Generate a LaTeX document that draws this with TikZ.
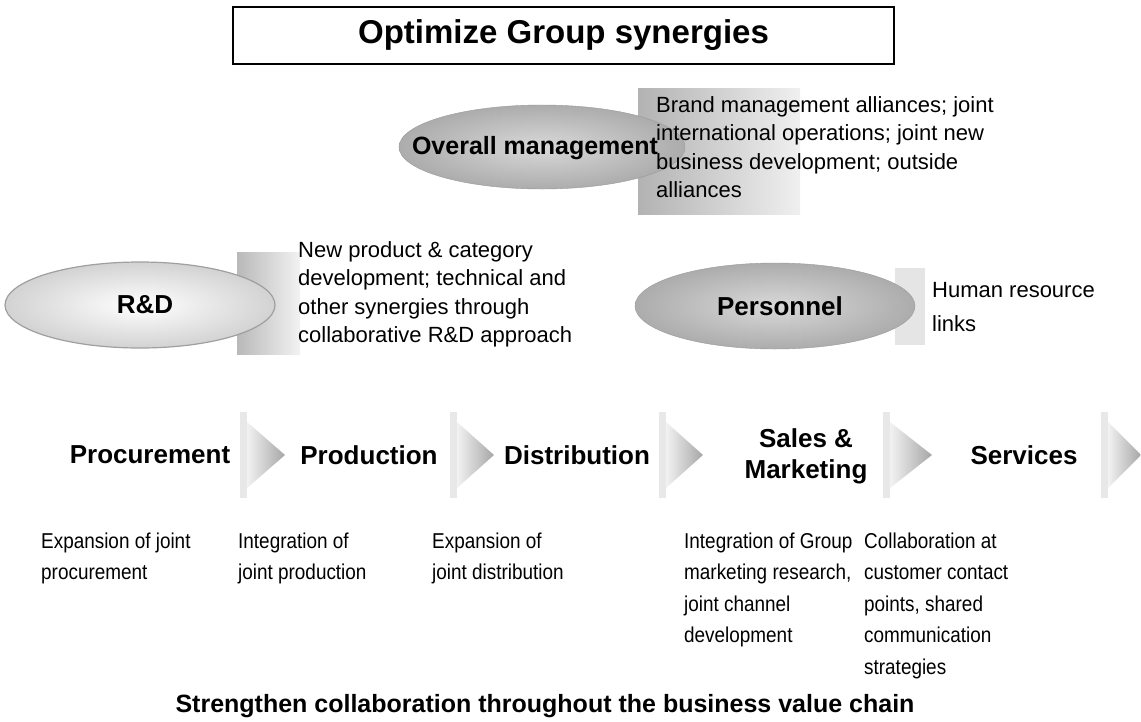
\documentclass[tikz,border=0pt]{standalone}
\usepackage{fontspec}
\setmainfont{Liberation Sans}
\newfontfamily\narrowsans[FakeStretch=0.88]{Liberation Sans}
\usetikzlibrary{shapes.geometric}
\begin{document}
\begin{tikzpicture}[x=1pt,y=-1pt,
  lbl/.style={font=\fontsize{26}{30}\selectfont\bfseries, inner sep=0pt, align=center},
  desc/.style={font=\fontsize{22}{28.5}\selectfont, inner sep=0pt, align=left, anchor=north west},
  bdesc/.style={font=\narrowsans\fontsize{21.5}{31.5}\selectfont, inner sep=0pt, align=left, anchor=north west},
  oval/.style={ellipse, inner sep=0pt},
  chev/.style={left color=gray!10, right color=gray!70},
  chevband/.style={fill=gray!18}
]
\useasboundingbox (0,0) rectangle (1141,721);

% title
\node[draw=black, line width=2pt, minimum width=661pt, minimum height=57pt, inner sep=0pt,
      font=\fontsize{33}{38}\selectfont\bfseries] (title) at (563.5,35.5) {Optimize Group synergies};

% grey backdrops
\shade[left color=gray!60, right color=gray!12] (638,88) rectangle (800,214);
\shade[left color=gray!55, right color=gray!10] (237,252) rectangle (300,354);
\fill[gray!20] (895,268) rectangle (925,345);

% ovals
\node[oval, minimum width=286pt, minimum height=84pt, inner color=gray!30, outer color=gray!65, draw=gray!80] (ov) at (542,147) {};
\node[lbl, font=\fontsize{25}{30}\selectfont\bfseries] (ovt) at (535,148) {Overall management};

\node[oval, minimum width=270pt, minimum height=86pt, inner color=white, outer color=gray!35, draw=gray!75, line width=1.2pt] (rd) at (140,305) {};
\node[lbl] (rdt) at (145,305) {R\&D};

\node[oval, minimum width=280pt, minimum height=86pt, inner color=gray!30, outer color=gray!65, draw=gray!80] (pe) at (775,306) {};
\node[lbl] (pet) at (780,306) {Personnel};

% descriptions
\node[desc] (ovd) at (656,92) {\strut Brand management alliances; joint\\\strut international operations; joint new\\\strut business development; outside\\\strut alliances};
\node[desc] (rdd) at (298,237) {\strut New product \& category\\\strut development; technical and\\\strut other synergies through\\\strut collaborative R\&D approach};
\node[desc, font=\fontsize{22}{34}\selectfont] (ped) at (932,273) {\strut Human resource\\\strut links};

% value chain chevrons
\foreach \b/\t in {247/285, 457/494, 666/703, 890/932, 1108/1141}{
  \fill[chevband] (\b-7,412) rectangle (\b,498);
  \shade[chev] (\b,422) -- (\t,455) -- (\b,488) -- cycle;
}
\node[lbl] (s1) at (150,455) {Procurement};
\node[lbl] (s2) at (369,455) {Production};
\node[lbl] (s3) at (577,455) {Distribution};
\node[lbl, font=\fontsize{26}{31}\selectfont\bfseries] (s4) at (806,456) {Sales \&\\Marketing};
\node[lbl] (s5) at (1024,455) {Services};

% stage descriptions
\node[bdesc] (d1) at (41,526) {\strut Expansion of joint\\\strut procurement};
\node[bdesc] (d2) at (238,526) {\strut Integration of\\\strut joint production};
\node[bdesc] (d3) at (432,526) {\strut Expansion of\\\strut joint distribution};
\node[bdesc] (d4) at (684,526) {\strut Integration of Group\\\strut marketing research,\\\strut joint channel\\\strut development};
\node[bdesc] (d5) at (864,526) {\strut Collaboration at\\\strut customer contact\\\strut points, shared\\\strut communication\\\strut strategies};

\node[lbl, font=\fontsize{25}{30}\selectfont\bfseries] (foot) at (545,706) {Strengthen collaboration throughout the business value chain};
\end{tikzpicture}
\end{document}
